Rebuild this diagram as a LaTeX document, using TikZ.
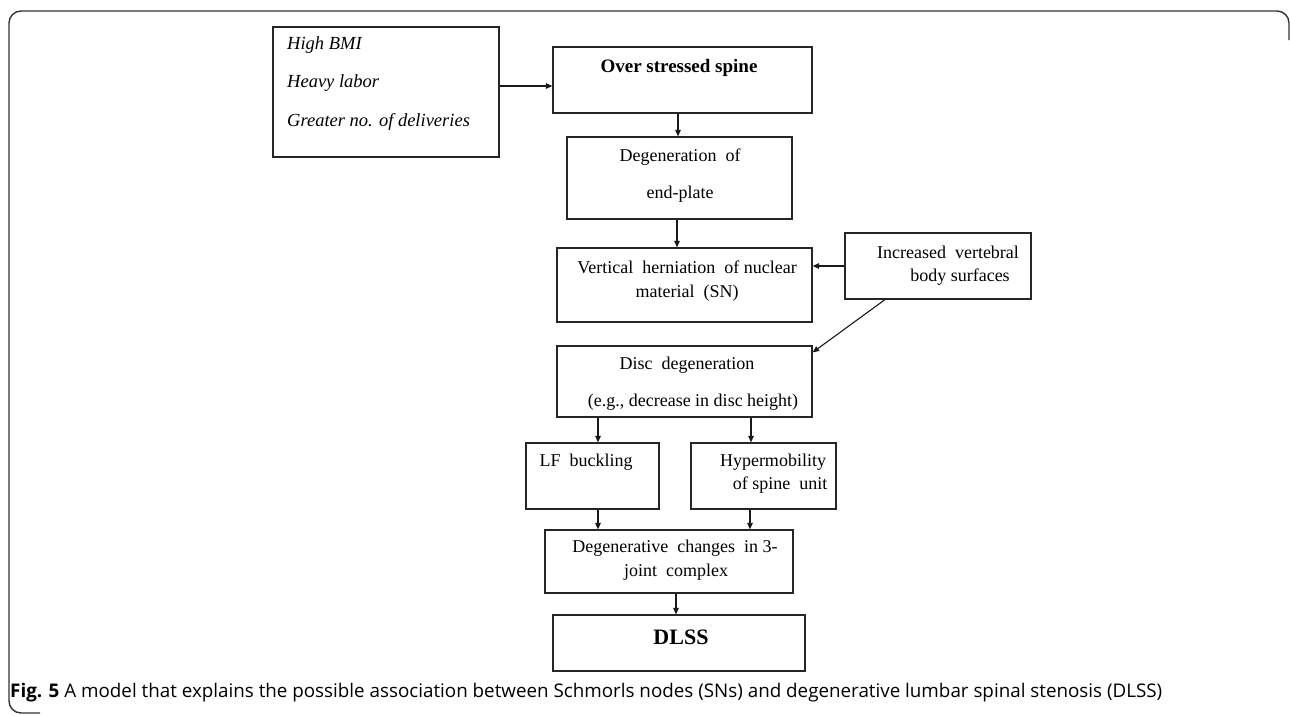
\documentclass[tikz,border=0pt]{standalone}
\usepackage{fontspec}
\setmainfont{Liberation Serif}
\newfontfamily\capfont{Open Sans}
\usetikzlibrary{arrows.meta}
\begin{document}
\begin{tikzpicture}[x=1pt,y=-1pt,
  box/.style={draw=black!85,line width=1.2pt,rectangle,inner sep=0pt},
  txt/.style={inner sep=0pt,font=\fontsize{18}{20}\selectfont},
  itxt/.style={inner sep=0pt,anchor=west,font=\fontsize{18.5}{20}\selectfont\itshape},
  arr/.style={draw=black!90,line width=1.1pt,-{Triangle[length=6.5pt,width=5.5pt]}},
  frame/.style={draw=black!80,line width=1.4pt,rounded corners=12pt}]
\useasboundingbox (0,0) rectangle (1290,715);
\draw[frame] (1289,40) -- (1289,11) -- (9,11) -- (9,713) -- (40,713);
% boxes
\node[box,minimum width=226pt,minimum height=130pt] (A) at (386,92) {};
\node[box,minimum width=259pt,minimum height=66pt] (B) at (682.5,80) {};
\node[box,minimum width=225pt,minimum height=82pt] (C) at (679.5,178) {};
\node[box,minimum width=255pt,minimum height=74pt] (D) at (684.5,285) {};
\node[box,minimum width=186pt,minimum height=66pt] (E) at (938,266) {};
\node[box,minimum width=255pt,minimum height=71pt] (F) at (684.5,381.5) {};
\node[box,minimum width=133pt,minimum height=66pt] (G) at (592.5,476) {};
\node[box,minimum width=145pt,minimum height=66pt] (H) at (763.5,476) {};
\node[box,minimum width=248pt,minimum height=63pt] (I) at (669,561.5) {};
\node[box,minimum width=252pt,minimum height=56pt] (J) at (679,643) {};
% texts
\node[itxt] (a1) at (287,45) {High BMI};
\node[itxt] (a2) at (287,83) {Heavy labor};
\node[itxt] (a3) at (287,122) {Greater no. of deliveries};
\node[txt,font=\fontsize{19}{20}\selectfont\bfseries] (b1) at (679,68) {Over stressed spine};
\node[txt] (c1) at (680,157) {Degeneration\ \ of};
\node[txt] (c2) at (680,194) {end-plate};
\node[txt] (d1) at (687,267) {Vertical\ \ herniation\ \ of nuclear};
\node[txt] (d2) at (687,293) {material\ \ (SN)};
\node[txt] (e1) at (948,252) {Increased\ \ vertebral};
\node[txt] (e2) at (960,277) {body surfaces};
\node[txt] (f1) at (687,365) {Disc\ \ degeneration};
\node[txt] (f2) at (693,402) {(e.g.,\ decrease\ in\ disc\ height)};
\node[txt] (g1) at (586,462) {LF\ \ buckling};
\node[txt] (h1) at (773,462) {Hypermobility};
\node[txt] (h2) at (780,485) {of spine\ \ unit};
\node[txt] (i1) at (675,548) {Degenerative\ \ changes\ \ in 3-};
\node[txt] (i2) at (676,572) {joint\ \ complex};
\node[txt,font=\fontsize{22}{24}\selectfont\bfseries] (j1) at (681,637) {DLSS};
\node[anchor=base west,inner sep=0pt,font=\capfont\fontsize{18.8}{22}\selectfont] (cap) at (10,697)
  {\textbf{Fig. 5} A model that explains the possible association between Schmorls nodes (SNs) and degenerative lumbar spinal stenosis (DLSS)};
% connectors
\draw[arr] ([yshift=6pt]A.east) -- ([yshift=6pt]A.east -| B.west);
\draw[arr] ([xshift=-4.5pt]B.south) -- ([xshift=-4.5pt]B.south |- C.north);
\draw[arr] ([xshift=-2.5pt]C.south) -- ([xshift=-2.5pt]C.south |- D.north);
\draw[arr] (E.west) -- (E.west -| D.east);
\draw[arr] ([xshift=-53pt]E.south) -- ([yshift=-7pt]F.north east);
\draw[arr] ([xshift=-86.5pt]F.south) -- ([xshift=-86.5pt]F.south |- G.north);
\draw[arr] ([xshift=66.5pt]F.south) -- ([xshift=66.5pt]F.south |- H.north);
\draw[arr] ([xshift=5.5pt]G.south) -- ([xshift=5.5pt]G.south |- I.north);
\draw[arr] ([xshift=-13.5pt]H.south) -- ([xshift=-13.5pt]H.south |- I.north);
\draw[arr] ([xshift=7pt]I.south) -- ([xshift=7pt]I.south |- J.north);
\end{tikzpicture}
\end{document}
